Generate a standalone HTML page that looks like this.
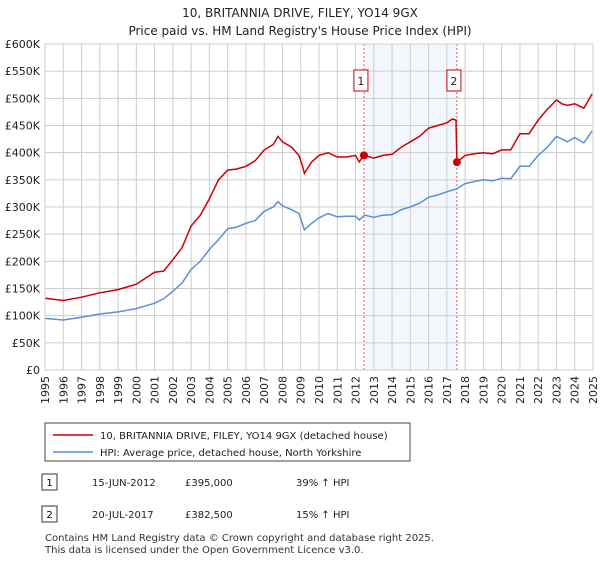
<!DOCTYPE html>
<html><head><meta charset="utf-8"><style>
body{margin:0;background:#fff;font-family:"Liberation Sans","DejaVu Sans",sans-serif;}
svg text{font-family:"DejaVu Sans","Liberation Sans",sans-serif;}
</style></head><body>
<svg id="c" width="600" height="560" xmlns="http://www.w3.org/2000/svg">
<text x="300" y="17" text-anchor="middle" font-size="12" fill="#222">10, BRITANNIA DRIVE, FILEY, YO14 9GX</text>
<text x="300" y="35" text-anchor="middle" font-size="12" fill="#222">Price paid vs. HM Land Registry's House Price Index (HPI)</text>
<g id="plot"></g>
<rect x="45" y="423" width="365" height="38" fill="#fff" stroke="#444"/>
<line x1="53" y1="435" x2="93" y2="435" stroke="#cc0000" stroke-width="1.5"/>
<text x="100" y="439" font-size="10" fill="#222">10, BRITANNIA DRIVE, FILEY, YO14 9GX (detached house)</text>
<line x1="53" y1="452" x2="93" y2="452" stroke="#5b8fd6" stroke-width="1.5"/>
<text x="100" y="456" font-size="10" fill="#222">HPI: Average price, detached house, North Yorkshire</text>
<g>
<rect x="42" y="474" width="15" height="16" fill="#fff" stroke="#333"/><text x="49.5" y="486" text-anchor="middle" font-size="10">1</text>
<text x="92" y="486" font-size="10" fill="#222">15-JUN-2012</text><text x="185" y="486" font-size="10" fill="#222">£395,000</text><text x="296" y="486" font-size="10" fill="#222">39% ↑ HPI</text></g>
<g>
<rect x="42" y="506" width="15" height="16" fill="#fff" stroke="#333"/><text x="49.5" y="518" text-anchor="middle" font-size="10">2</text>
<text x="92" y="518" font-size="10" fill="#222">20-JUL-2017</text><text x="185" y="518" font-size="10" fill="#222">£382,500</text><text x="296" y="518" font-size="10" fill="#222">15% ↑ HPI</text></g>
<text x="45" y="541" font-size="10" fill="#333">Contains HM Land Registry data © Crown copyright and database right 2025.</text>
<text x="45" y="553" font-size="10" fill="#333">This data is licensed under the Open Government Licence v3.0.</text>
</svg>
<script>
const hpiYears=[1995,1996,1997,1998,1999,2000,2001,2001.5,2002,2002.5,2003,2003.5,2004,2004.5,2005,2005.5,2006,2006.5,2007,2007.5,2007.75,2008,2008.5,2008.9,2009.1,2009.2,2009.6,2010,2010.5,2011,2011.5,2012,2012.2,2012.5,2013,2013.5,2014,2014.5,2015,2015.5,2016,2016.5,2017,2017.5,2018,2018.5,2019,2019.5,2020,2020.5,2021,2021.5,2022,2022.5,2023,2023.3,2023.6,2024,2024.5,2024.95];
const hpiValues=[95,92,97,103,107,113,123,131,145,160,185,200,222,240,260,263,270,275,292,300,310,302,295,288,268,258,270,280,288,282,283,283,276,285,281,285,286,295,300,307,318,322,328,333,343,347,350,348,353,352,375,375,395,410,430,425,420,428,418,440];
const priceYears=[1995,1996,1997,1998,1999,2000,2001,2001.5,2002,2002.5,2003,2003.5,2004,2004.5,2005,2005.5,2006,2006.5,2007,2007.5,2007.75,2008,2008.5,2008.9,2009.1,2009.2,2009.6,2010,2010.5,2011,2011.5,2012,2012.2,2012.46,2013,2013.5,2014,2014.5,2015,2015.5,2016,2016.5,2017,2017.3,2017.5,2017.55,2018,2018.5,2019,2019.5,2020,2020.5,2021,2021.5,2022,2022.5,2023,2023.3,2023.6,2024,2024.5,2024.95];
const priceValues=[132,128,134,142,148,158,180,182,203,225,265,285,315,350,368,370,375,385,405,415,430,420,410,395,375,362,383,395,400,392,392,395,383,395,390,395,397,410,420,430,445,450,455,462,460,382.5,395,398,400,398,405,405,435,435,460,480,497,490,487,490,482,508];
const saleYears=[2012.46,2017.55];
const saleValues=[395,382.5];
const saleLabels=["1","2"];
const yTicks=[0,50,100,150,200,250,300,350,400,450,500,550,600];
const yTickLabels=["£0","£50K","£100K","£150K","£200K","£250K","£300K","£350K","£400K","£450K","£500K","£550K","£600K"];
const xTicks=[1995,1996,1997,1998,1999,2000,2001,2002,2003,2004,2005,2006,2007,2008,2009,2010,2011,2012,2013,2014,2015,2016,2017,2018,2019,2020,2021,2022,2023,2024,2025];
const L=45,R=593,T=44,B=370;
const xs=y=>L+(y-1995)/30*(R-L);
const ys=v=>B-v/600*(B-T);
const NS="http://www.w3.org/2000/svg";
const g=document.getElementById('plot');
function mk(t,a){const e=document.createElementNS(NS,t);for(const k in a)e.setAttribute(k,a[k]);g.appendChild(e);return e;}
const shade=mk('rect',{x:xs(saleYears[0]),y:T,width:xs(saleYears[1])-xs(saleYears[0]),height:B-T,fill:'#eef3fc',opacity:0.7});


yTicks.forEach((v,i)=>{
 const l=mk('line',{x1:L,x2:R,y1:ys(v),y2:ys(v),stroke:'#cccccc'});
 
 
 const t=mk('text',{x:40,y:ys(v)+4,'text-anchor':'end','font-size':11,fill:'#222'});
 t.textContent=yTickLabels[i];
 
 
});
xTicks.forEach(y=>{
 const l=mk('line',{x1:xs(y),x2:xs(y),y1:T,y2:B,stroke:'#cccccc'});
 
 
 const t=mk('text',{x:0,y:0,'text-anchor':'end','font-size':11,fill:'#222',transform:`translate(${xs(y)+4},${B+6}) rotate(-90)`});
 t.textContent=y;
 
 
});
saleYears.forEach((y,i)=>{
 const l=mk('line',{x1:xs(y),x2:xs(y),y1:T,y2:B,stroke:'#e06060','stroke-dasharray':'2,2'});
 
 
});
function path(xa,va,col,name){
 const d=xa.map((y,i)=>(i?'L':'M')+xs(y).toFixed(1)+','+ys(va[i]).toFixed(1)).join('');
 const p=mk('path',{d,fill:'none',stroke:col,'stroke-width':1.5});
 
 
}
path(hpiYears,hpiValues,'#5b8fd6','hpi-line');
path(priceYears,priceValues,'#cc0000','price-line');
saleYears.forEach((y,i)=>{
 const c=mk('circle',{cx:xs(y),cy:ys(saleValues[i]),r:4,fill:'#cc0000'});
 
 
 const r=mk('rect',{x:xs(y)-10,y:70,width:14,height:21,fill:'#fff',stroke:'#cc0000'});
 
 
 const t=mk('text',{x:xs(y)-3,y:85,'text-anchor':'middle','font-size':11,fill:'#222'});
 t.textContent=saleLabels[i];
 
 
});
const ax=mk('rect',{x:L,y:T,width:R-L,height:B-T,fill:'none',stroke:'#cccccc'});


</script>
</body></html>
